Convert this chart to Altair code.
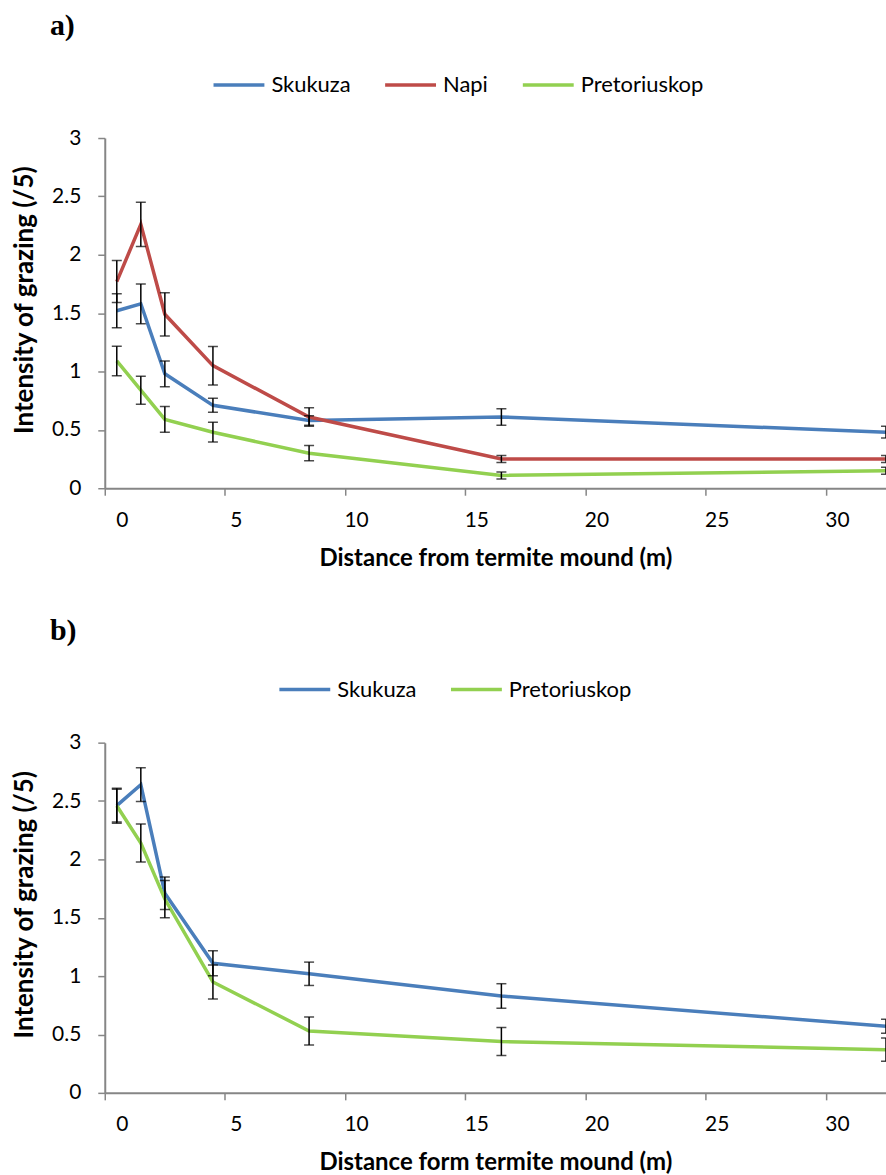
import altair as alt
import pandas as pd

# Distance from termite mound (m)
x_dist = [0.5, 1.5, 2.5, 4.5, 8.5, 16.5, 32.5]

# Panel a
skukuza_a = [1.52, 1.58, 0.98, 0.71, 0.58, 0.61, 0.48]
skukuza_a_err = [0.145, 0.17, 0.11, 0.06, 0.04, 0.07, 0.05]
napi_a = [1.77, 2.26, 1.49, 1.05, 0.61, 0.25, 0.25]
napi_a_err = [0.18, 0.19, 0.185, 0.165, 0.08, 0.03, 0.03]
pret_a = [1.09, 0.84, 0.59, 0.48, 0.30, 0.11, 0.15]
pret_a_err = [0.127, 0.12, 0.11, 0.085, 0.065, 0.03, 0.03]

# Panel b
skukuza_b = [2.46, 2.64, 1.71, 1.11, 1.02, 0.83, 0.57]
skukuza_b_err = [0.14, 0.145, 0.14, 0.107, 0.10, 0.105, 0.06]
pret_b = [2.46, 2.14, 1.66, 0.95, 0.53, 0.44, 0.37]
pret_b_err = [0.15, 0.163, 0.16, 0.145, 0.12, 0.12, 0.10]

x_ticks = [0, 5, 10, 15, 20, 25, 30]
y_ticks = [0, 0.5, 1, 1.5, 2, 2.5, 3]

BLUE = "#4A7EBB"
RED = "#BE4B48"
GREEN = "#92D050"


def make_df(series):
    rows = []
    for name, vals, errs in series:
        for x, v, e in zip(x_dist, vals, errs):
            rows.append({"site": name, "dist": x, "val": v, "lo": v - e, "hi": v + e})
    return pd.DataFrame(rows)


def panel(series, colors, label, xtitle, legend_x):
    df = make_df(series)
    names = [s[0] for s in series]
    base = alt.Chart(df)
    xenc = alt.X(
        "dist:Q",
        scale=alt.Scale(domain=[0, 32.5], nice=False, zero=False),
        axis=alt.Axis(values=x_ticks, title=xtitle, labelOffset=11,
                      labelPadding=14, titlePadding=16, titleFontSize=24),
    )
    yaxis = alt.Axis(values=y_ticks, format=".1~f", title="Intensity of grazing (/5)",
                     labelPadding=17, titlePadding=14, titleFontSize=26, titleY=162)
    yscale = alt.Scale(domain=[0, 3], nice=False)

    lines = base.mark_line(strokeWidth=3.5, clip=True).encode(
        x=xenc,
        y=alt.Y("val:Q", scale=yscale, axis=yaxis),
        color=alt.Color(
            "site:N",
            sort=names,
            scale=alt.Scale(domain=names, range=colors),
            legend=alt.Legend(
                orient="none", legendX=legend_x, legendY=-81, direction="horizontal",
                title=None, symbolType="stroke", symbolSize=2600, symbolStrokeWidth=3.5,
                labelFont="Lato", labelFontSize=22, labelColor="black", labelOffset=5,
                columnPadding=27, padding=0,
            ),
        ),
    )
    bars = base.mark_rule(color="black", strokeWidth=1.5, clip=True).encode(
        x=xenc,
        y=alt.Y("lo:Q", scale=yscale, axis=yaxis),
        y2="hi:Q",
    )
    caps_lo = base.mark_tick(color="black", orient="horizontal", size=10, thickness=1.5,
                             clip=True).encode(
        x=xenc, y=alt.Y("lo:Q", scale=yscale, axis=yaxis))
    caps_hi = base.mark_tick(color="black", orient="horizontal", size=10, thickness=1.5,
                             clip=True).encode(
        x=xenc, y=alt.Y("hi:Q", scale=yscale, axis=yaxis))
    return alt.layer(lines, bars, caps_lo, caps_hi).properties(
        width=783, height=351,
        title=alt.TitleParams(label, anchor="start", frame="group", font="Liberation Serif",
                              fontSize=30, fontWeight="bold", color="black", dx=-55,
                              offset=16),
    )


pa = panel(
    [("Skukuza", skukuza_a, skukuza_a_err), ("Napi", napi_a, napi_a_err),
     ("Pretoriuskop", pret_a, pret_a_err)],
    [BLUE, RED, GREEN], "a)", "Distance from termite mound (m)", 107,
)
pb = panel(
    [("Skukuza", skukuza_b, skukuza_b_err), ("Pretoriuskop", pret_b, pret_b_err)],
    [BLUE, GREEN], "b)", "Distance form termite mound (m)", 173,
)

chart = (
    alt.vconcat(pa, pb, spacing=46)
    .resolve_scale(color="independent")
    .properties(padding={"left": 11, "top": 10, "right": 0, "bottom": 0}, background="white")
    .configure_view(stroke=None)
    .configure_axis(
        domainColor="#868686", domainWidth=2, tickColor="#868686", tickWidth=1.5, tickSize=7,
        labelFont="Lato", labelFontSize=21, labelColor="black",
        titleFont="Lato", titleFontWeight="bold", titleColor="black",
        grid=False,
    )
)

chart.save("out.html", embed_options={"renderer": "svg", "actions": False})
